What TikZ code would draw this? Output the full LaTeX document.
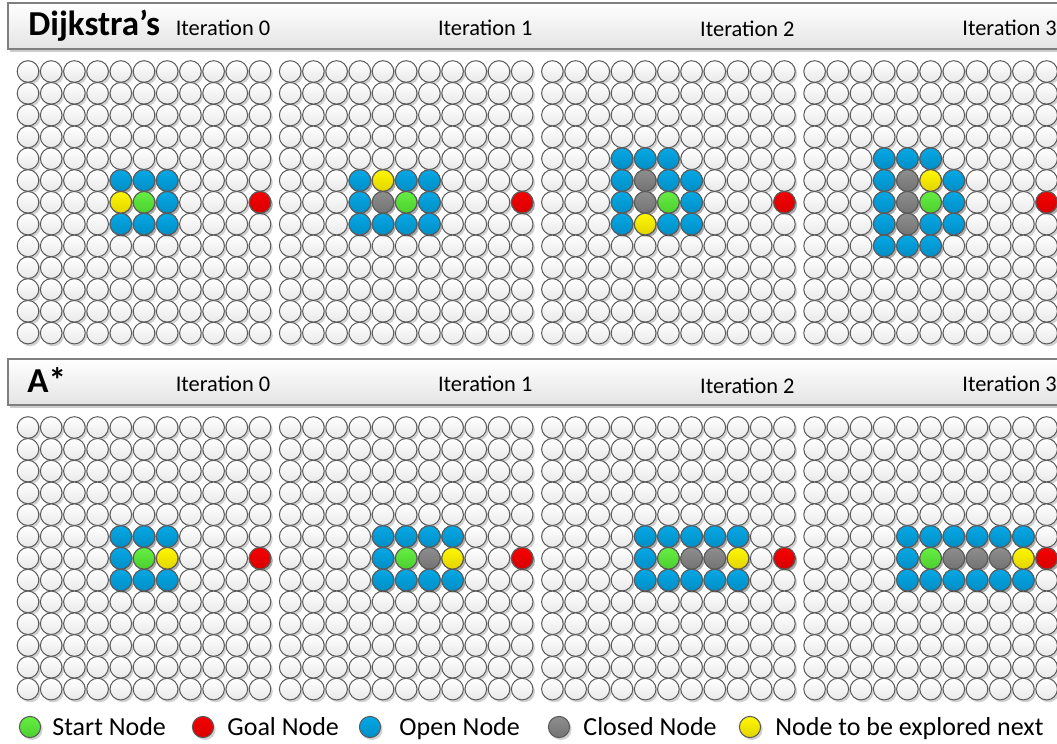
\documentclass[tikz,border=0pt]{standalone}
\usepackage{fontspec}
\setmainfont{Carlito}
\usepackage{tikz}
\usetikzlibrary{shadows}
\definecolor{dotline}{HTML}{5A5A5A}
\definecolor{freeLo}{HTML}{E9E9E9}
\definecolor{startHi}{HTML}{66EE44}
\definecolor{startLo}{HTML}{4CCF2E}
\definecolor{goalHi}{HTML}{F60000}
\definecolor{goalLo}{HTML}{D80000}
\definecolor{openHi}{HTML}{06A8E6}
\definecolor{openLo}{HTML}{008EC6}
\definecolor{closedHi}{HTML}{8E8E8E}
\definecolor{closedLo}{HTML}{737373}
\definecolor{nextHi}{HTML}{FFF700}
\definecolor{nextLo}{HTML}{E2D400}
\definecolor{barline}{HTML}{7F7F7F}
\definecolor{barLo}{HTML}{E4E4E4}
\tikzset{
  dot/.style     = {draw=dotline, line width=0.5pt,
                    drop shadow={shadow xshift=1pt, shadow yshift=-1.2pt,
                                 opacity=0.18, fill=black}},
  dfree/.style   = {dot, top color=white, bottom color=freeLo},
  dstart/.style  = {dot, top color=startHi, bottom color=startLo},
  dgoal/.style   = {dot, top color=goalHi, bottom color=goalLo},
  dopen/.style   = {dot, top color=openHi, bottom color=openLo},
  dclosed/.style = {dot, top color=closedHi, bottom color=closedLo},
  dnext/.style   = {dot, top color=nextHi, bottom color=nextLo},
  bar/.style     = {draw=barline, line width=0.6pt, top color=white, bottom color=barLo,
                    drop shadow={shadow xshift=0.8pt, shadow yshift=-1.5pt,
                                 opacity=0.2, fill=black}},
  algo/.style    = {font=\fontsize{17.5}{19}\selectfont\bfseries, anchor=base west, inner sep=0pt},
  iter/.style    = {font=\fontsize{11.2}{13}\selectfont, anchor=base, inner sep=0pt},
  legdot/.style  = {circle, minimum size=10.6pt, inner sep=0pt},
  legtxt/.style  = {font=\fontsize{13}{15}\selectfont, anchor=base west, inner sep=0pt},
}
\newcommand{\colsep}{23.2}
\newcommand{\rowsep}{21.8}
\newcommand{\dotr}{10.8}
\newcommand{\pdot}[3]{%                 % #1 = style, #2 = col, #3 = row
  \path[#1] ({28+\colsep*#2},{\rowsep*#3}) circle (\dotr);}
\newcommand{\panel}[3]{%                % #1 = panel, #2 = y of first row, #3 = style/col/row list
  \begin{scope}[shift={({262.2*#1},#2)}]
    \foreach \c in {0,...,10}{\foreach \r in {0,...,12}{\pdot{dfree}{\c}{\r}}}
    \foreach \s/\c/\r in {#3}{\pdot{\s}{\c}{\r}}
    \pdot{dgoal}{10}{6}
  \end{scope}}

\begin{document}
\begin{tikzpicture}[x=0.5pt,y=-0.5pt]
  \clip (0,0) rectangle (1057,744);
  \fill[white] (0,0) rectangle (1057,744);
  % header bars
  \path[bar] (8,3) rectangle (1075,49);
  \path[bar] (8,359) rectangle (1075,405);
  \node[algo] (dijk) at (28,35) {Dijkstra’s};
  \node[algo] (astar) at (27,392) {A*};
  \foreach \k/\dy in {0/0,1/0,2/2,3/0}{
    \node[iter] (ditr\k) at ({223+262.2*\k},{35+\dy}) {Iteration \k};
    \node[iter] (aitr\k) at ({223+262.2*\k},{391+\dy}) {Iteration \k};
  }
  % Dijkstra's grids
  \panel{0}{71.5}{dopen/4/5, dopen/5/5, dopen/6/5,
                  dnext/4/6, dstart/5/6, dopen/6/6,
                  dopen/4/7, dopen/5/7, dopen/6/7}
  \panel{1}{71.5}{dopen/3/5, dnext/4/5, dopen/5/5, dopen/6/5,
                  dopen/3/6, dclosed/4/6, dstart/5/6, dopen/6/6,
                  dopen/3/7, dopen/4/7, dopen/5/7, dopen/6/7}
  \panel{2}{71.5}{dopen/3/4, dopen/4/4, dopen/5/4,
                  dopen/3/5, dclosed/4/5, dopen/5/5, dopen/6/5,
                  dopen/3/6, dclosed/4/6, dstart/5/6, dopen/6/6,
                  dopen/3/7, dnext/4/7, dopen/5/7, dopen/6/7}
  \panel{3}{71.5}{dopen/3/4, dopen/4/4, dopen/5/4,
                  dopen/3/5, dclosed/4/5, dnext/5/5, dopen/6/5,
                  dopen/3/6, dclosed/4/6, dstart/5/6, dopen/6/6,
                  dopen/3/7, dclosed/4/7, dopen/5/7, dopen/6/7,
                  dopen/3/8, dopen/4/8, dopen/5/8}
  % A* grids
  \panel{0}{427.5}{dopen/4/5, dopen/5/5, dopen/6/5,
                   dopen/4/6, dstart/5/6, dnext/6/6,
                   dopen/4/7, dopen/5/7, dopen/6/7}
  \panel{1}{427.5}{dopen/4/5, dopen/5/5, dopen/6/5, dopen/7/5,
                   dopen/4/6, dstart/5/6, dclosed/6/6, dnext/7/6,
                   dopen/4/7, dopen/5/7, dopen/6/7, dopen/7/7}
  \panel{2}{427.5}{dopen/4/5, dopen/5/5, dopen/6/5, dopen/7/5, dopen/8/5,
                   dopen/4/6, dstart/5/6, dclosed/6/6, dclosed/7/6, dnext/8/6,
                   dopen/4/7, dopen/5/7, dopen/6/7, dopen/7/7, dopen/8/7}
  \panel{3}{427.5}{dopen/4/5, dopen/5/5, dopen/6/5, dopen/7/5, dopen/8/5, dopen/9/5,
                   dopen/4/6, dstart/5/6, dclosed/6/6, dclosed/7/6, dclosed/8/6, dnext/9/6,
                   dopen/4/7, dopen/5/7, dopen/6/7, dopen/7/7, dopen/8/7, dopen/9/7}
  % legend
  \node[legdot, dstart]  (lstart)  at (30,727)  {};
  \node[legdot, dgoal]   (lgoal)   at (203,727) {};
  \node[legdot, dopen]   (lopen)   at (370,727) {};
  \node[legdot, dclosed] (lclosed) at (559,727) {};
  \node[legdot, dnext]   (lnext)   at (750,727) {};
  \node[legtxt] (tstart)  at (52,735)  {Start Node};
  \node[legtxt] (tgoal)   at (227,735) {Goal Node};
  \node[legtxt] (topen)   at (399,735) {Open Node};
  \node[legtxt] (tclosed) at (583,735) {Closed Node};
  \node[legtxt] (tnext)   at (775,735) {Node to be explored next};
\end{tikzpicture}
\end{document}
